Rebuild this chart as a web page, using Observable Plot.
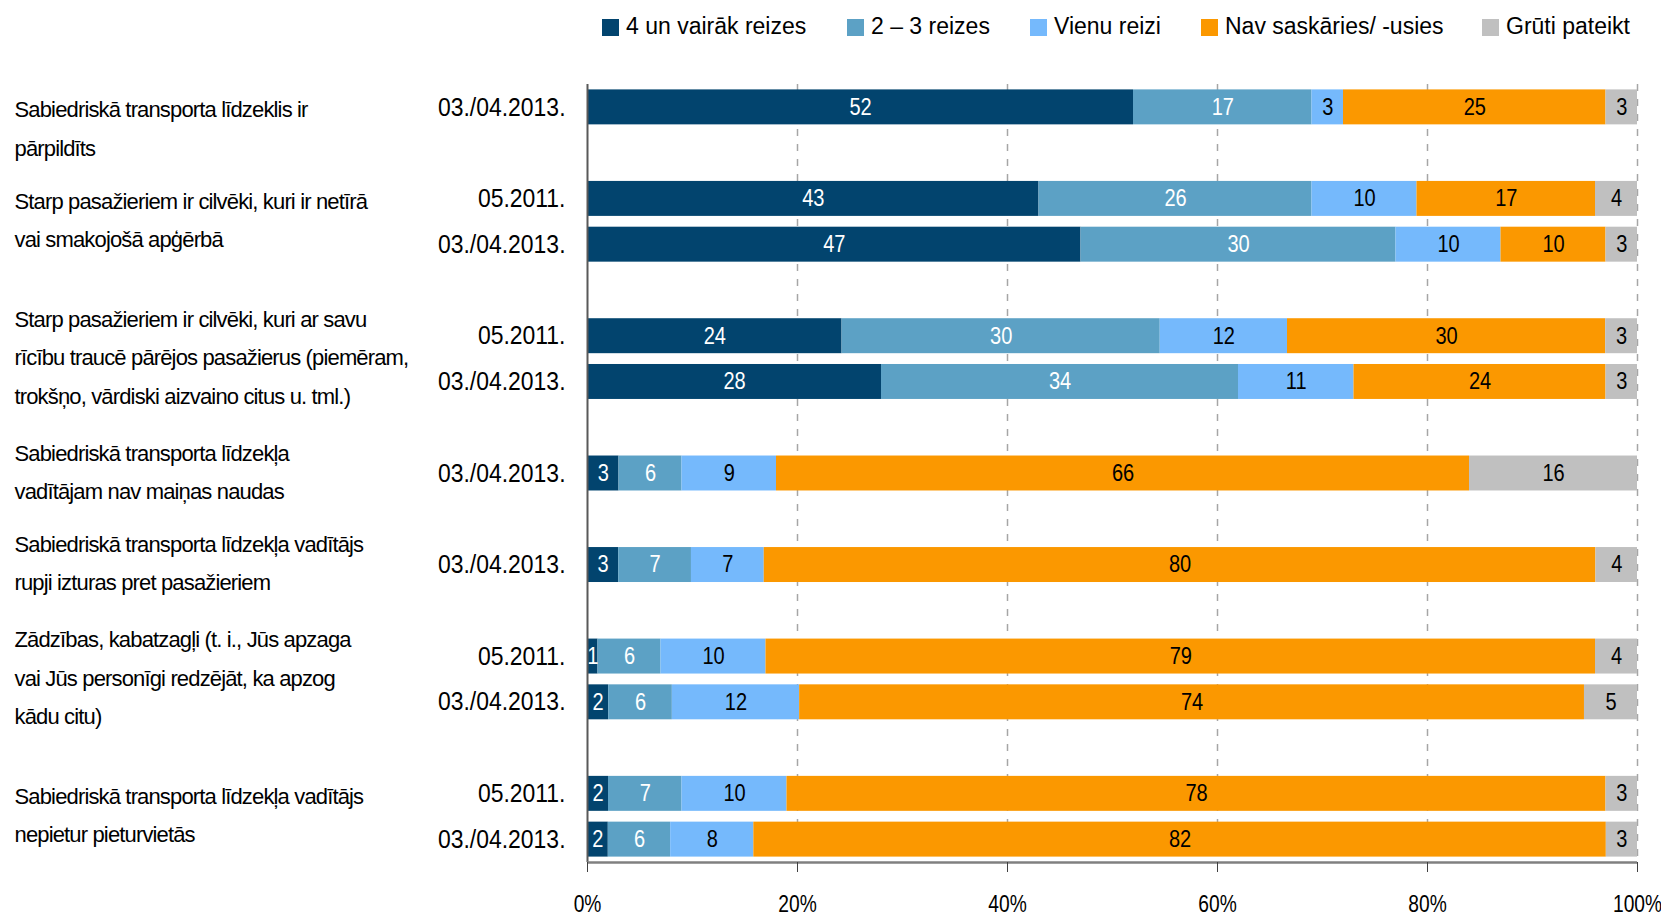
<!DOCTYPE html>
<html><head><meta charset="utf-8">
<script src="https://cdn.jsdelivr.net/npm/d3@7"></script>
<script src="https://cdn.jsdelivr.net/npm/@observablehq/plot@0.6"></script>
<style>
html,body{margin:0;padding:0;background:#fff;overflow:hidden}
body{font-family:"Liberation Sans",Arial,sans-serif;color:#000;width:1661px;height:916px}
#legend{position:relative;height:50px}
#legend .item{position:absolute;top:13px;display:flex;align-items:center;font-size:23px;line-height:26px;white-space:nowrap}
#legend .sw{width:17px;height:17px;margin-right:7px;margin-top:3px}
</style></head><body>
<div id="legend"></div>
<div id="chart"></div>
<script>
// Series (legend order) and colours
const series = ["4 un vairāk reizes", "2 – 3 reizes", "Vienu reizi", "Nav saskāries/ -usies", "Grūti pateikt"];
const seriesColors = ["#02446e", "#5ca1c5", "#75b9fc", "#fb9800", "#c0c0c0"];
const labelColors = ["#ffffff", "#ffffff", "#000000", "#000000", "#000000"];

// Group (statement) labels, with their line breaks
const groupLabels = [
  "Sabiedriskā transporta līdzeklis ir\npārpildīts",
  "Starp pasažieriem ir cilvēki, kuri ir netīrā\nvai smakojošā apģērbā",
  "Starp pasažieriem ir cilvēki, kuri ar savu\nrīcību traucē pārējos pasažierus (piemēram,\ntrokšņo, vārdiski aizvaino citus u. tml.)",
  "Sabiedriskā transporta līdzekļa\nvadītājam nav maiņas naudas",
  "Sabiedriskā transporta līdzekļa vadītājs\nrupji izturas pret pasažieriem",
  "Zādzības, kabatzagļi (t. i., Jūs apzaga\nvai Jūs personīgi redzējāt, ka apzog\nkādu citu)",
  "Sabiedriskā transporta līdzekļa vadītājs\nnepietur pieturvietās"
];

// Row layout (one entry per row slot, top to bottom); null = empty spacer row
const rowGroup  = [0, 0, 1, 1, null, 2, 2, null, 3, null, 4, null, 5, 5, null, 6, 6];
const rowPeriod = ["03./04.2013.", null, "05.2011.", "03./04.2013.", null, "05.2011.", "03./04.2013.", null,
                   "03./04.2013.", null, "03./04.2013.", null, "05.2011.", "03./04.2013.", null, "05.2011.", "03./04.2013."];

// Values per series (%), aligned with the rows
const vFourPlus = [52, null, 43, 47, null, 24, 28, null, 3, null, 3, null, 1, 2, null, 2, 2];
const vTwoThree = [17, null, 26, 30, null, 30, 34, null, 6, null, 7, null, 6, 6, null, 7, 6];
const vOnce     = [3, null, 10, 10, null, 12, 11, null, 9, null, 7, null, 10, 12, null, 10, 8];
const vNever    = [25, null, 17, 10, null, 30, 24, null, 66, null, 80, null, 79, 74, null, 78, 82];
const vHard     = [3, null, 4, 3, null, 3, 3, null, 16, null, 4, null, 4, 5, null, 3, 3];

// X tick values (%)
const xTicks = [0, 20, 40, 60, 80, 100];

// ---- build tables ----
const seriesValues = [vFourPlus, vTwoThree, vOnce, vNever, vHard];
const cells = [];
rowPeriod.forEach((p, slot) => {
  if (p == null) return;
  const vals = seriesValues.map(a => a[slot]);
  const total = d3.sum(vals);
  let cum = 0;
  vals.forEach((v, s) => {
    const x1 = cum / total * 100;
    cum += v;
    const x2 = cum / total * 100;
    cells.push({slot, s, series: series[s], value: v, x1, x2});
  });
});
const groupsData = groupLabels.map((label, g) => ({
  label,
  anchor: d3.mean(rowGroup.map((gg, i) => gg === g ? i : null).filter(i => i != null))
}));
const periodSlots = rowPeriod.map((p, i) => p == null ? null : i).filter(i => i != null);
const yDomain = [-0.5, rowPeriod.length - 0.5];

// ---- legend ----
const legendLeft = [602, 847, 1030, 1201, 1482];
const legend = d3.select("#legend");
series.forEach((name, i) => {
  const it = legend.append("div").attr("class", "item").style("left", legendLeft[i] + "px");
  it.append("div").attr("class", "sw").style("background", seriesColors[i]);
  it.append("span").text(name);
});

// ---- chart ----
const chart = Plot.plot({
  width: 1661,
  height: 866,
  marginTop: 34,
  marginBottom: 54,
  marginLeft: 587,
  marginRight: 24,
  style: {fontFamily: '"Liberation Sans", Arial, sans-serif', fontSize: "22px", color: "#000", background: "#fff", overflow: "visible"},
  x: {domain: [0, 100]},
  y: {domain: yDomain, reverse: true},
  color: {domain: series, range: seriesColors},
  marks: [
    Plot.gridX(xTicks.slice(1), {stroke: "#a6a6a6", strokeOpacity: 1, strokeWidth: 1.5, strokeDasharray: "7,8"}),
    Plot.rectX(cells, {x1: "x1", x2: "x2", y1: d => d.slot - 0.5, y2: d => d.slot + 0.5, fill: "series", insetTop: 5.4, insetBottom: 5.4}),
    Plot.text(cells, {x: d => (d.x1 + d.x2) / 2, y: "slot", text: d => String(d.value), fill: d => labelColors[d.s], fontSize: 23}),
    Plot.ruleX([0], {stroke: "#595959", strokeWidth: 2}),
    Plot.ruleY([yDomain[1]], {stroke: "#808080", strokeWidth: 2.5}),
    Plot.axisX({ticks: xTicks, tickFormat: d => d + "%", tickSize: 10, tickPadding: 22, fontSize: 24, stroke: "#404040"}),
    Plot.axisY({ticks: periodSlots, tickFormat: s => rowPeriod[s], tickSize: 0, tickPadding: 22, fontSize: 25.5}),
    Plot.text(groupsData, {y: "anchor", text: "label", frameAnchor: "left", textAnchor: "start", dx: 14 - 587, dy: -6, lineHeight: 1.74, fontSize: 22})
  ]
});
document.getElementById("chart").appendChild(chart);

// condensed look of the original (Excel-rendered) text
function condense(t, s) {
  const tr = t.getAttribute("transform");
  if (tr) {
    t.setAttribute("transform", tr + ` scale(${s},1)`);
  } else {
    const x = +(t.getAttribute("x") || 0), y = +(t.getAttribute("y") || 0);
    t.removeAttribute("x"); t.removeAttribute("y");
    t.setAttribute("transform", `translate(${x},${y}) scale(${s},1)`);
  }
}
const groupSet = new Set(groupLabels.map(s => s.replace(/\n/g, "")));
const periodSet = new Set(rowPeriod.filter(p => p != null));
chart.querySelectorAll("text").forEach(t => {
  const c = t.textContent;
  if (groupSet.has(c)) t.style.letterSpacing = "-0.85px";
  else if (periodSet.has(c)) condense(t, 0.9);
  else if (/%$/.test(c)) condense(t, 0.8);
  else if (/^\d+$/.test(c)) condense(t, 0.87);
});
</script>
</body></html>
